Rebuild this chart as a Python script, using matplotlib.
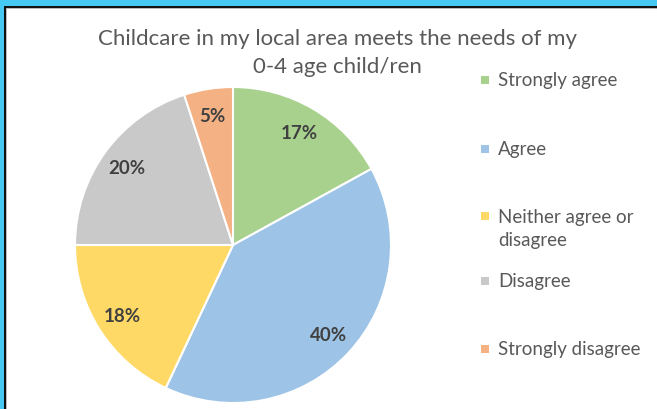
import matplotlib
matplotlib.use("Agg")
import matplotlib.pyplot as plt
from matplotlib.patches import Rectangle

categories = ["Strongly agree", "Agree", "Neither agree or\ndisagree", "Disagree", "Strongly disagree"]
values = [17, 40, 18, 20, 5]
colors = ["#A9D18E", "#9DC3E6", "#FFD966", "#C9C9C9", "#F4B183"]
title_lines = ["Childcare in my local area meets the needs of my", "0-4 age child/ren"]

W, H = 657, 410
plt.rcParams["font.family"] = ["Lato", "DejaVu Sans"]

fig = plt.figure(figsize=(W / 100, H / 100), dpi=100, facecolor="white")

# frame: cyan band + dark edge on top and left
def px_rect(x0, y0, x1, y1, color):
    fig.patches.append(Rectangle((x0 / W, 1 - y1 / H), (x1 - x0) / W, (y1 - y0) / H,
                                 transform=fig.transFigure, color=color, lw=0, zorder=0))

px_rect(0, 0, W, 7, "#45C8F2")
px_rect(0, 0, 4, H, "#45C8F2")
px_rect(4, 7, W, 9, "#111111")
px_rect(4, 7, 6, H, "#111111")
px_rect(6, 9, W, 10, "#BBBBBB")
px_rect(6, 9, 7, H, "#BBBBBB")

# pie axes: centre (233, 246), radius 158 px
cx, cy, r = 233, 246, 158
ax = fig.add_axes([(cx - r) / W, (H - cy - r) / H, 2 * r / W, 2 * r / H])
wedges, texts, autotexts = ax.pie(values, colors=colors, startangle=90, counterclock=False,
                                  autopct="%d%%", pctdistance=0.83,
                                  wedgeprops=dict(edgecolor="white", linewidth=1.5))
for t in autotexts:
    t.set_fontsize(13.5); t.set_fontweight("bold"); t.set_color("#404040")
ax.set_xlim(-1, 1); ax.set_ylim(-1, 1)
ax.set_aspect("equal")
ax.axis("off")

for line, y in zip(title_lines, [39, 67]):
    fig.text(337 / W, 1 - y / H, line, ha="center", va="center", fontsize=16, color="#595959")

# legend, laid out like the source
leg_y = [81, 150, 217, 282, 350]
for lab, col, y in zip(categories, colors, leg_y):
    px_rect(481, y - 4, 489, y + 4, col)
    if "\n" in lab:
        fig.text(498 / W, 1 - (y - 8) / H, lab, ha="left", va="top",
                 fontsize=13.5, color="#595959", linespacing=1.45)
    else:
        fig.text(498 / W, 1 - y / H, lab, ha="left", va="center",
                 fontsize=13.5, color="#595959")

fig.savefig("out.png", dpi=100, facecolor="white")
